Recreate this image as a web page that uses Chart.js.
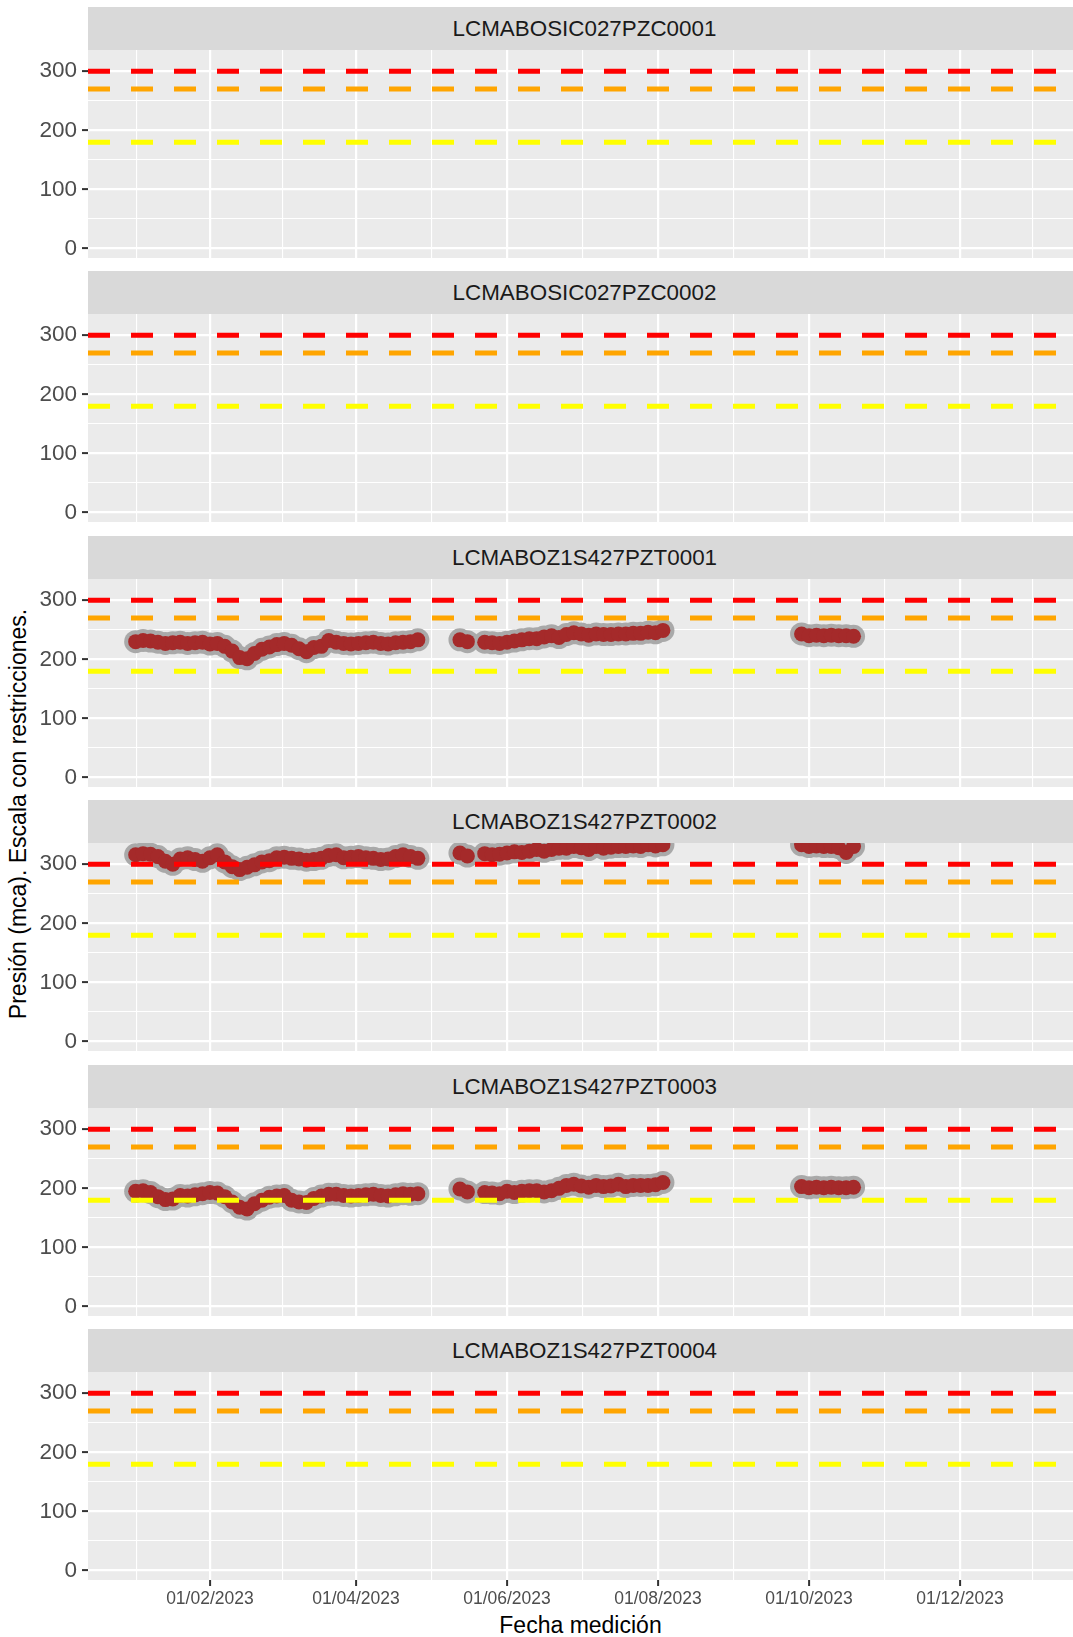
<!DOCTYPE html>
<html><head><meta charset="utf-8">
<script src="https://cdn.jsdelivr.net/npm/chart.js@4.4.0/dist/chart.umd.min.js"></script>
<style>
html,body{margin:0;padding:0;background:#ffffff;}
body{width:1073px;height:1637px;position:relative;overflow:hidden;font-family:"Liberation Sans",Arial,Helvetica,sans-serif;}
.strip{position:absolute;left:88px;width:985px;height:43px;background:#D9D9D9;color:#1A1A1A;font-size:22.4px;line-height:43px;text-align:center;}
.strip span{position:relative;left:4px;}
canvas.pan{position:absolute;left:0;}
#xt{position:absolute;left:88px;width:985px;top:1612px;text-align:center;font-size:23px;line-height:26px;color:#000;}
#yt{position:absolute;left:-282px;top:801px;width:600px;height:26px;line-height:26px;text-align:center;font-size:23px;color:#000;transform:rotate(-90deg);transform-origin:50% 50%;}
</style>
</head><body>
<div id="xt">Fecha medición</div>
<div id="yt">Presión (mca). Escala con restricciones.</div>
<script>
// ---- data ----
const paneles = ["LCMABOSIC027PZC0001","LCMABOSIC027PZC0002","LCMABOZ1S427PZT0001","LCMABOZ1S427PZT0002","LCMABOZ1S427PZT0003","LCMABOZ1S427PZT0004"];
const fechas = [
 "2023-01-02","2023-01-05","2023-01-08","2023-01-11","2023-01-14","2023-01-17","2023-01-20","2023-01-23","2023-01-26","2023-01-29",
 "2023-02-01","2023-02-04","2023-02-07","2023-02-10","2023-02-13","2023-02-16","2023-02-19","2023-02-22","2023-02-25","2023-02-28",
 "2023-03-03","2023-03-06","2023-03-09","2023-03-12","2023-03-15","2023-03-18","2023-03-21","2023-03-24","2023-03-27","2023-03-30",
 "2023-04-02","2023-04-05","2023-04-08","2023-04-11","2023-04-14","2023-04-17","2023-04-20","2023-04-23","2023-04-26",
 "2023-05-13","2023-05-16","2023-05-23","2023-05-26","2023-05-29","2023-06-01","2023-06-04","2023-06-07","2023-06-10","2023-06-13",
 "2023-06-16","2023-06-19","2023-06-22","2023-06-25","2023-06-28","2023-07-01","2023-07-04","2023-07-07","2023-07-10","2023-07-13",
 "2023-07-16","2023-07-19","2023-07-22","2023-07-25","2023-07-28","2023-07-31","2023-08-03",
 "2023-09-28","2023-10-01","2023-10-04","2023-10-07","2023-10-10","2023-10-13","2023-10-16","2023-10-19"];
const pzt0001 = [
 230,232,231,229,227,228,229,227,228,229,226,227,222,214,203,201,210,217,221,225,
 227,224,218,213,220,222,232,229,227,226,227,228,229,227,226,228,229,230,233,
 233,230,229,228,227,229,231,233,235,235,238,240,237,242,245,243,241,243,242,242,
 243,243,244,244,246,245,249,
 243,240,241,240,241,240,240,239];
const pzt0002 = [
 316,318,317,313,305,300,309,311,308,305,311,316,304,296,291,295,299,304,306,311,
 312,310,309,307,308,310,315,316,311,312,313,311,310,308,309,313,316,313,310,
 319,314,318,316,317,319,321,320,322,325,322,325,327,327,330,328,325,330,327,329,
 330,330,331,330,333,331,333,
 333,330,331,330,330,328,320,330];
const pzt0003 = [
 195,196,193,186,181,182,188,187,189,191,193,192,186,177,168,165,174,180,185,187,
 188,180,177,176,183,187,190,190,188,187,188,189,190,188,187,189,191,190,191,
 199,194,193,192,191,195,193,195,196,196,194,196,200,205,207,204,202,205,203,204,
 207,203,205,205,205,206,210,
 203,201,202,201,202,201,201,202];
const seriesPorPanel = [null, null, pzt0001, pzt0002, pzt0003, null];
const umbrales = [300, 270, 180];
const umbralColores = ["#FF0000", "#FFA500", "#FFFF00"];
const xTickFechas = ["2023-02-01","2023-04-01","2023-06-01","2023-08-01","2023-10-01","2023-12-01"];
const xTickLabels = ["01/02/2023","01/04/2023","01/06/2023","01/08/2023","01/10/2023","01/12/2023"];
const yTicks = [0, 100, 200, 300];
const yMinor = [50, 150, 250];
const yLim = [-16, 336];
const xLimFechas = ["2022-12-13T18:00:00Z", "2024-01-15T15:36:00Z"];

// ---- helpers ----
const T0 = Date.parse("2023-01-01T00:00:00Z");
const toDay = s => (Date.parse(s.length === 10 ? s + "T00:00:00Z" : s) - T0) / 86400000;
const xMin = toDay(xLimFechas[0]), xMax = toDay(xLimFechas[1]);
const xMajor = xTickFechas.map(toDay);
const step = xMajor[1] - xMajor[0];
const ext = [xMajor[0] - step, ...xMajor, xMajor[xMajor.length - 1] + step];
const xMinor = [];
for (let i = 0; i < ext.length - 1; i++) { const m = (ext[i] + ext[i + 1]) / 2; if (m > xMin && m < xMax) xMinor.push(m); }
const xLabelMap = new Map(xMajor.map((d, i) => [d, xTickLabels[i]]));
const isXMajor = v => xLabelMap.has(v);
const isYMajor = v => yTicks.includes(v);
const FONT = '"Liberation Sans", Arial, Helvetica, sans-serif';

const panelBg = { id: 'panelBg', beforeDraw(chart) { const { ctx, chartArea: a } = chart; ctx.save(); ctx.fillStyle = '#EBEBEB'; ctx.fillRect(a.left, a.top, a.right - a.left, a.bottom - a.top); ctx.restore(); } };

const panelTops = [50, 314, 579, 843, 1108, 1372];
const PANEL_H = 208;
const AXIS_H = 64;

paneles.forEach((nombre, i) => {
  const last = i === paneles.length - 1;
  const strip = document.createElement('div');
  strip.className = 'strip';
  strip.style.top = (panelTops[i] - 43) + 'px';
  strip.innerHTML = '<span>' + nombre + '</span>';
  document.body.appendChild(strip);

  const cv = document.createElement('canvas');
  cv.className = 'pan';
  const h = PANEL_H + (last ? AXIS_H : 0);
  cv.width = 1073; cv.height = h;
  cv.style.width = '1073px'; cv.style.height = h + 'px';
  cv.style.top = panelTops[i] + 'px';
  document.body.appendChild(cv);

  const datasets = umbrales.map((u, k) => ({
    type: 'line', data: [{ x: xMin, y: u }, { x: xMax, y: u }],
    borderColor: umbralColores[k], borderWidth: 5, borderDash: [22, 21], borderCapStyle: 'butt',
    pointRadius: 0, fill: false, order: k, clip: 0
  }));
  const vals = seriesPorPanel[i];
  if (vals) {
    const pts = fechas.map((f, j) => ({ x: toDay(f), y: vals[j] }));
    datasets.push({ type: 'scatter', data: pts, backgroundColor: '#A52A2A', borderWidth: 0, pointRadius: 7.5, order: 10, clip: 0 });
    datasets.push({ type: 'scatter', data: pts, backgroundColor: '#A9A9A9', borderWidth: 0, pointRadius: 11.5, order: 11, clip: 0 });
  }

  new Chart(cv, {
    type: 'scatter',
    data: { datasets },
    plugins: [panelBg],
    options: {
      responsive: false, animation: false, events: [],
      layout: { padding: 0, autoPadding: false },
      plugins: { legend: { display: false }, tooltip: { enabled: false } },
      scales: {
        x: {
          type: 'linear', position: 'bottom', min: xMin, max: xMax, bounds: 'data',
          afterBuildTicks(s) { s.ticks = [...xMinor, ...xMajor].sort((a, b) => a - b).map(v => ({ value: v })); },
          afterFit(s) { s.height = last ? AXIS_H : 0; s.paddingLeft = 0; s.paddingRight = 0; s.paddingTop = 0; s.paddingBottom = 0; },
          ticks: { display: last, autoSkip: false, maxRotation: 0, minRotation: 0, padding: 3,
            callback: v => xLabelMap.get(v) || '', font: { size: 17.5, family: FONT }, color: '#4D4D4D' },
          grid: { color: '#FFFFFF', lineWidth: c => (c.tick && isXMajor(c.tick.value)) ? 2.2 : 1.1,
            drawTicks: last, tickLength: 6, tickWidth: 2,
            tickColor: c => (c.tick && isXMajor(c.tick.value)) ? '#333333' : 'rgba(0,0,0,0)' },
          border: { display: false }
        },
        y: {
          type: 'linear', position: 'left', min: yLim[0], max: yLim[1], bounds: 'data',
          afterBuildTicks(s) { s.ticks = [...yTicks, ...yMinor].sort((a, b) => a - b).map(v => ({ value: v })); },
          afterFit(s) { s.width = 88; s.paddingTop = 0; s.paddingBottom = 0; s.paddingLeft = 0; s.paddingRight = 0; },
          ticks: { autoSkip: false, padding: 5, callback: v => isYMajor(v) ? String(v) : '',
            font: { size: 22.5, family: FONT }, color: '#4D4D4D' },
          grid: { color: '#FFFFFF', lineWidth: c => (c.tick && isYMajor(c.tick.value)) ? 2.2 : 1.1,
            drawTicks: true, tickLength: 6, tickWidth: 2,
            tickColor: c => (c.tick && isYMajor(c.tick.value)) ? '#333333' : 'rgba(0,0,0,0)' },
          border: { display: false }
        }
      }
    }
  });
});
</script>
</body></html>
